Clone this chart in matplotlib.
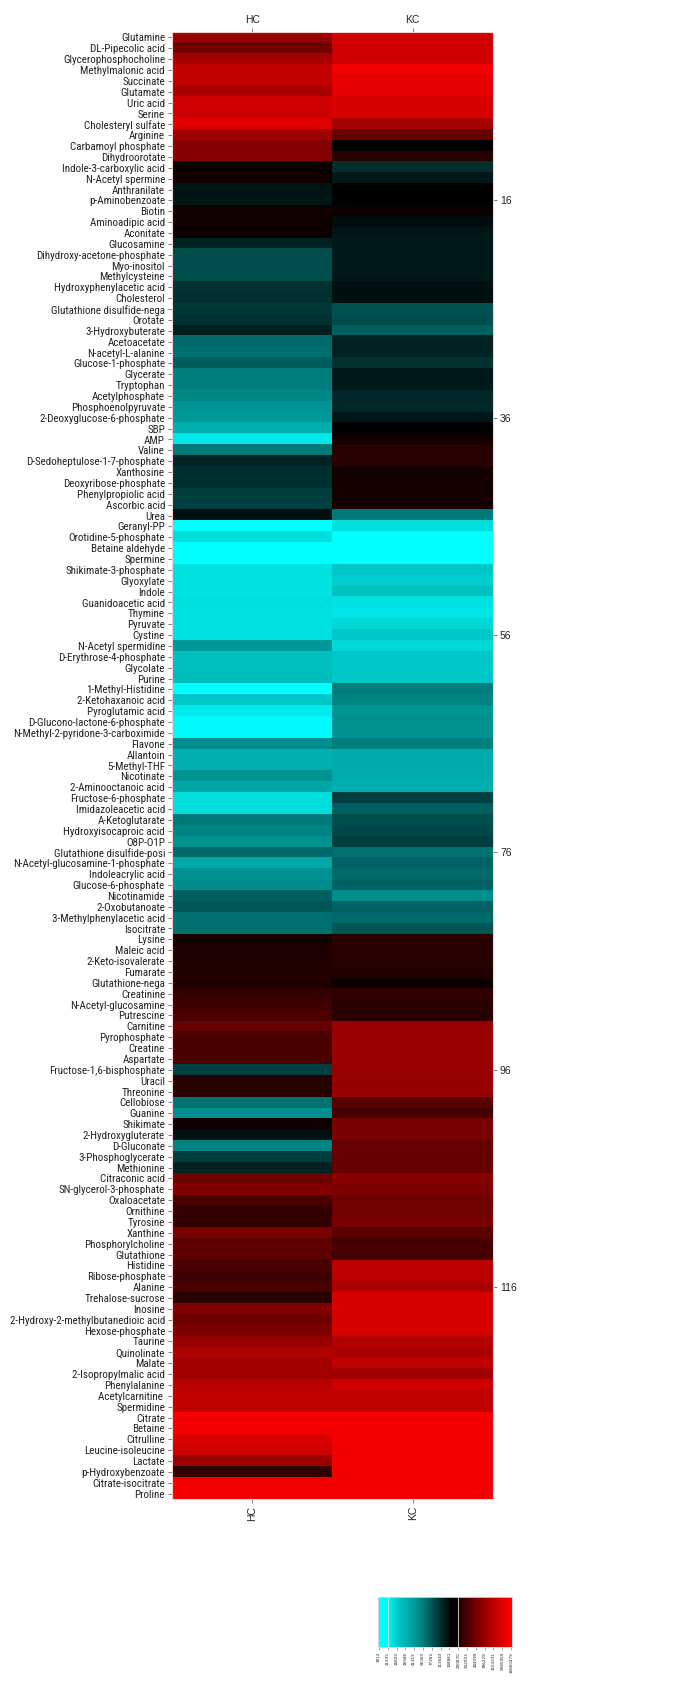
import numpy as np
import matplotlib
matplotlib.use("Agg")
import matplotlib.pyplot as plt
from matplotlib import font_manager
from matplotlib.colors import LinearSegmentedColormap

# metabolites, top to bottom
metabolites = [
    "Glutamine", "DL-Pipecolic acid", "Glycerophosphocholine", "Methylmalonic acid",
    "Succinate", "Glutamate", "Uric acid", "Serine", "Cholesteryl sulfate", "Arginine",
    "Carbamoyl phosphate", "Dihydroorotate", "Indole-3-carboxylic acid", "N-Acetyl spermine",
    "Anthranilate", "p-Aminobenzoate", "Biotin", "Aminoadipic acid", "Aconitate",
    "Glucosamine", "Dihydroxy-acetone-phosphate", "Myo-inositol", "Methylcysteine",
    "Hydroxyphenylacetic acid", "Cholesterol", "Glutathione disulfide-nega", "Orotate",
    "3-Hydroxybuterate", "Acetoacetate", "N-acetyl-L-alanine", "Glucose-1-phosphate",
    "Glycerate", "Tryptophan", "Acetylphosphate", "Phosphoenolpyruvate",
    "2-Deoxyglucose-6-phosphate", "SBP", "AMP", "Valine", "D-Sedoheptulose-1-7-phosphate",
    "Xanthosine", "Deoxyribose-phosphate", "Phenylpropiolic acid", "Ascorbic acid", "Urea",
    "Geranyl-PP", "Orotidine-5-phosphate", "Betaine aldehyde", "Spermine",
    "Shikimate-3-phosphate", "Glyoxylate", "Indole", "Guanidoacetic acid", "Thymine",
    "Pyruvate", "Cystine", "N-Acetyl spermidine", "D-Erythrose-4-phosphate", "Glycolate",
    "Purine", "1-Methyl-Histidine", "2-Ketohaxanoic acid", "Pyroglutamic acid",
    "D-Glucono-lactone-6-phosphate", "N-Methyl-2-pyridone-3-carboximide", "Flavone",
    "Allantoin", "5-Methyl-THF", "Nicotinate", "2-Aminooctanoic acid",
    "Fructose-6-phosphate", "Imidazoleacetic acid", "A-Ketoglutarate",
    "Hydroxyisocaproic acid", "O8P-O1P", "Glutathione disulfide-posi",
    "N-Acetyl-glucosamine-1-phosphate", "Indoleacrylic acid", "Glucose-6-phosphate",
    "Nicotinamide", "2-Oxobutanoate", "3-Methylphenylacetic acid", "Isocitrate", "Lysine",
    "Maleic acid", "2-Keto-isovalerate", "Fumarate", "Glutathione-nega", "Creatinine",
    "N-Acetyl-glucosamine", "Putrescine", "Carnitine", "Pyrophosphate", "Creatine",
    "Aspartate", "Fructose-1,6-bisphosphate", "Uracil", "Threonine", "Cellobiose",
    "Guanine", "Shikimate", "2-Hydroxygluterate", "D-Gluconate", "3-Phosphoglycerate",
    "Methionine", "Citraconic acid", "SN-glycerol-3-phosphate", "Oxaloacetate",
    "Ornithine", "Tyrosine", "Xanthine", "Phosphorylcholine", "Glutathione", "Histidine",
    "Ribose-phosphate", "Alanine", "Trehalose-sucrose", "Inosine",
    "2-Hydroxy-2-methylbutanedioic acid", "Hexose-phosphate", "Taurine", "Quinolinate",
    "Malate", "2-Isopropylmalic acid", "Phenylalanine", "Acetylcarnitine ", "Spermidine",
    "Citrate", "Betaine", "Citrulline", "Leucine-isoleucine", "Lactate",
    "p-Hydroxybenzoate", "Citrate-isocitrate", "Proline",
]

# scaled level: -1 cyan, 0 black, +1 red
hc = [
    0.60, 0.45, 0.65, 0.75, 0.75, 0.67, 0.82, 0.80, 0.88, 0.62,
    0.52, 0.52, 0.04, 0.07, -0.08, -0.08, 0.07, 0.06, 0.06, -0.14,
    -0.30, -0.30, -0.30, -0.20, -0.18, -0.22, -0.20, -0.12, -0.41, -0.43,
    -0.36, -0.49, -0.49, -0.53, -0.58, -0.60, -0.68, -0.90, -0.47, -0.14,
    -0.18, -0.18, -0.24, -0.25, -0.06, -1.00, -0.86, -1.00, -1.00, -0.88,
    -0.88, -0.88, -0.87, -0.88, -0.88, -0.88, -0.60, -0.75, -0.75, -0.74,
    -1.00, -0.78, -0.92, -0.98, -0.98, -0.55, -0.68, -0.68, -0.57, -0.65,
    -0.86, -0.86, -0.47, -0.51, -0.57, -0.41, -0.65, -0.57, -0.55, -0.37,
    -0.33, -0.43, -0.43, 0.08, 0.12, 0.12, 0.13, 0.13, 0.20, 0.25,
    0.29, 0.40, 0.29, 0.29, 0.29, -0.25, 0.16, 0.16, -0.45, -0.55,
    0.06, -0.06, -0.51, -0.24, -0.14, 0.43, 0.51, 0.29, 0.20, 0.20,
    0.47, 0.37, 0.37, 0.29, 0.24, 0.29, 0.16, 0.51, 0.43, 0.49,
    0.59, 0.69, 0.63, 0.63, 0.73, 0.75, 0.75, 0.96, 0.96, 0.86,
    0.80, 0.61, 0.20, 0.96, 0.96,
]
kc = [
    0.82, 0.82, 0.82, 0.95, 0.90, 0.90, 0.85, 0.85, 0.65, 0.40,
    0.00, 0.15, -0.18, -0.10, 0.00, 0.00, 0.05, -0.05, -0.08, -0.10,
    -0.10, -0.10, -0.10, -0.06, -0.06, -0.32, -0.30, -0.37, -0.14, -0.14,
    -0.20, -0.10, -0.10, -0.16, -0.16, -0.08, 0.00, 0.07, 0.15, 0.17,
    0.08, 0.08, 0.08, 0.08, -0.47, -0.86, -1.00, -1.00, -1.00, -0.78,
    -0.80, -0.75, -0.88, -0.90, -0.84, -0.78, -0.84, -0.78, -0.78, -0.78,
    -0.49, -0.51, -0.58, -0.57, -0.57, -0.50, -0.67, -0.67, -0.67, -0.68,
    -0.25, -0.37, -0.31, -0.28, -0.25, -0.45, -0.39, -0.41, -0.39, -0.55,
    -0.39, -0.41, -0.33, 0.17, 0.15, 0.15, 0.14, 0.06, 0.18, 0.16,
    0.16, 0.60, 0.60, 0.60, 0.60, 0.60, 0.58, 0.58, 0.35, 0.27,
    0.47, 0.47, 0.41, 0.41, 0.41, 0.53, 0.49, 0.43, 0.45, 0.47,
    0.35, 0.27, 0.27, 0.73, 0.73, 0.67, 0.84, 0.84, 0.84, 0.84,
    0.70, 0.67, 0.75, 0.63, 0.82, 0.75, 0.75, 0.96, 0.96, 0.96,
    0.96, 0.96, 0.96, 0.96, 0.96,
]
groups = ["HC", "KC"]
right_ticks = [16, 36, 56, 76, 96, 116]

cb_labels = ["3012", "11335", "15829", "26948", "41313", "56360", "77282", "113643",
             "148861", "200870", "332903", "444099", "786229", "1163231", "5085959",
             "16860479"]
cb_levels = [-1.0, -0.98, -0.80, -0.70, -0.60, -0.48, -0.34, -0.18,
             -0.03, 0.08, 0.30, 0.45, 0.60, 0.74, 0.86, 1.0]

cmap = LinearSegmentedColormap.from_list("cyan_black_red", ["#00ffff", "#000000", "#ff0000"])

# pick a narrow face for the long row labels if one is installed
fonts = font_manager.fontManager.ttflist
narrow = None
for f in fonts:
    if f.name in ("Liberation Sans Narrow", "Roboto Condensed", "Open Sans Condensed"):
        narrow = dict(family=[f.name, "DejaVu Sans"], size=7.9)
        break
if narrow is None and any(f.name == "DejaVu Sans" and f.stretch == "condensed" for f in fonts):
    narrow = dict(family=["DejaVu Sans"], stretch="condensed", size=7.0)
if narrow is None:
    narrow = dict(family=["Liberation Sans", "DejaVu Sans"], size=6.5)

plain = dict(family=["Liberation Sans", "DejaVu Sans"], size=7.5)

W, H = 700, 1692
fig = plt.figure(figsize=(W / 100, H / 100), dpi=100)

n = len(metabolites)
data = np.column_stack([hc, kc])

ax = fig.add_axes([172 / W, 1 - 1499 / H, 321 / W, 1467 / H])
ax.imshow(data, cmap=cmap, vmin=-1, vmax=1, aspect="auto", interpolation="nearest",
          extent=(0.5, 2.5, n + 0.5, 0.5))
ax.set_xlim(0.5, 2.5)
ax.set_ylim(n + 0.5, 0.5)
ax.set_yticks(np.arange(1, n + 1))
ax.set_yticklabels(metabolites, color="#222222", **narrow)
ax.set_xticks([1, 2])
ax.set_xticklabels(groups, rotation=90, color="#222222", **plain)
ax.tick_params(axis="both", length=3, width=0.6, color="#666666", pad=2)
for sp in ax.spines.values():
    sp.set_color("#f2d0d0")
    sp.set_linewidth(0.8)

top = ax.secondary_xaxis("top")
top.set_xticks([1, 2])
top.set_xticklabels(groups, color="#222222", **plain)
top.tick_params(length=3, width=0.6, color="#666666", pad=2)
top.spines["top"].set_visible(False)

right = ax.secondary_yaxis("right")
right.set_yticks(right_ticks)
right.set_yticklabels([str(t) for t in right_ticks], color="#222222", **plain)
right.tick_params(length=3, width=0.6, color="#666666", pad=2)
right.spines["right"].set_visible(False)

# colour key
cax = fig.add_axes([378 / W, 1 - 1647 / H, 134 / W, 50 / H])
cax.imshow([cb_levels], cmap=cmap, vmin=-1, vmax=1, aspect="auto",
           interpolation="bilinear", extent=(-0.5, len(cb_levels) - 0.5, 0, 1))
cax.set_xlim(-0.1, len(cb_levels) - 0.9)
cax.set_ylim(0, 1)
for i in (1, 9):
    cax.axvline(i, color="#dddddd", lw=0.8, alpha=0.8)
cax.set_yticks([])
cax.set_xticks(np.arange(len(cb_labels)))
cax.set_xticklabels(cb_labels, rotation=90, fontsize=3, color="#222222")
cax.tick_params(axis="x", length=2, width=0.4, color="#666666", pad=1.5)
for sp in cax.spines.values():
    sp.set_color("#f2d0d0")
    sp.set_linewidth(0.6)

fig.savefig("out.png", dpi=100)
